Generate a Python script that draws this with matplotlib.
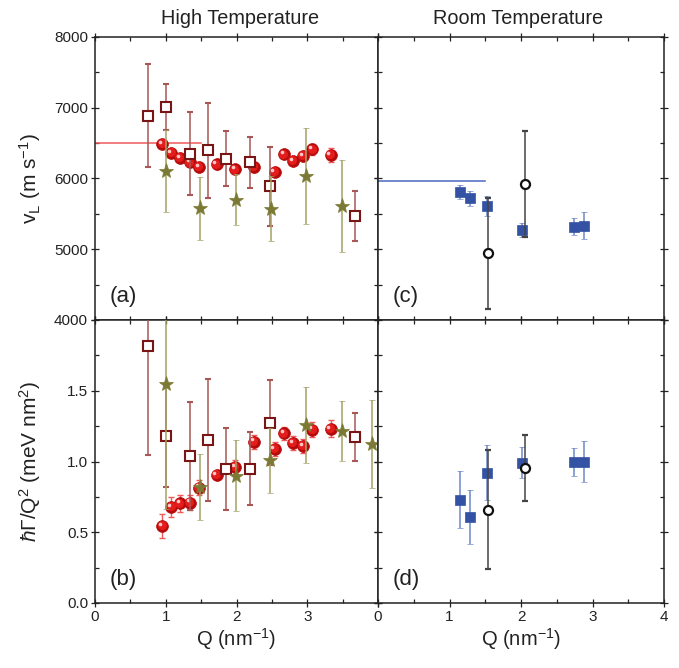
import matplotlib
matplotlib.use('Agg')
import matplotlib.pyplot as plt
from matplotlib.ticker import MultipleLocator, FixedLocator, FixedFormatter
from matplotlib.transforms import Bbox, TransformedBbox, offset_copy

plt.rcParams['font.family'] = ['Liberation Sans', 'DejaVu Sans']
plt.rcParams['mathtext.fontset'] = 'custom'
plt.rcParams['mathtext.rm'] = 'Liberation Sans'
plt.rcParams['mathtext.it'] = 'Liberation Sans:italic'
plt.rcParams['mathtext.bf'] = 'Liberation Sans:bold'

# ---------------- data ----------------
# High temperature: spheres (red), open squares (maroon), stars (olive)
ht_sph_q = [0.95, 1.08, 1.20, 1.34, 1.47, 1.72, 1.98, 2.25, 2.54, 2.67, 2.80, 2.94, 3.07, 3.33]
ht_sph_v = [6490, 6360, 6290, 6230, 6160, 6200, 6130, 6160, 6090, 6340, 6250, 6320, 6410, 6330]
ht_sph_v_err = [60, 50, 50, 50, 60, 60, 60, 70, 60, 50, 50, 60, 80, 100]
ht_sph_g = [0.545, 0.68, 0.705, 0.71, 0.815, 0.905, 0.96, 1.14, 1.09, 1.20, 1.13, 1.11, 1.225, 1.23]
ht_sph_g_err = [0.085, 0.07, 0.06, 0.05, 0.055, 0.03, 0.05, 0.05, 0.05, 0.045, 0.05, 0.05, 0.055, 0.06]

ht_sq_q = [0.75, 1.00, 1.34, 1.60, 1.85, 2.19, 2.48, 3.68]
ht_sq_v = [6890, 7010, 6350, 6400, 6280, 6230, 5890, 5470]
ht_sq_v_err = [730, 330, 590, 670, 390, 360, 560, 350]
ht_sq_g = [1.815, 1.18, 1.04, 1.15, 0.95, 0.95, 1.275, 1.175]
ht_sq_g_err = [0.77, 0.36, 0.38, 0.43, 0.29, 0.26, 0.30, 0.17]

ht_star_q_v = [1.00, 1.49, 1.99, 2.49, 2.98, 3.49]
ht_star_v = [6110, 5580, 5700, 5570, 6030, 5610]
ht_star_v_err = [580, 445, 360, 460, 680, 650]
ht_star_q_g = [1.00, 1.49, 1.99, 2.48, 2.98, 3.49, 3.91]
ht_star_g = [1.545, 0.82, 0.90, 1.01, 1.26, 1.215, 1.125]
ht_star_g_err = [0.88, 0.23, 0.25, 0.23, 0.27, 0.21, 0.31]

ht_line_q = [0.0, 1.5]
ht_line_v = [6500, 6500]

# Room temperature: filled squares (blue), open circles (black)
rt_sq_q = [1.14, 1.29, 1.53, 2.02, 2.74, 2.88]
rt_sq_v = [5810, 5720, 5610, 5270, 5320, 5330]
rt_sq_v_err = [105, 110, 140, 100, 125, 190]
rt_sq_g = [0.73, 0.61, 0.92, 0.99, 0.995, 1.00]
rt_sq_g_err = [0.20, 0.19, 0.195, 0.11, 0.10, 0.145]

rt_circ_q = [1.54, 2.05]
rt_circ_v = [4940, 5925]
rt_circ_v_err = [790, 750]
rt_circ_g = [0.66, 0.955]
rt_circ_g_err = [0.42, 0.235]

rt_line_q = [0.0, 1.5]
rt_line_v = [5970, 5970]

x_ticks = [0, 1, 2, 3, 4]
x_labels_left = ['0', '1', '2', '3', '']
x_labels_right = ['0', '1', '2', '3', '4']
v_ticks = [4000, 5000, 6000, 7000, 8000]
v_labels = ['4000', '5000', '6000', '7000', '8000']
g_ticks = [0.0, 0.5, 1.0, 1.5, 2.0]
g_labels = ['0.0', '0.5', '1.0', '1.5', '']

# ---------------- styles ----------------
RED = '#e41c1c'
RED_DARK = '#b50a0a'
RED_ERR = '#ee5a5a'
MAROON = '#7a1515'
MAROON_ERR = '#a85656'
OLIVE = '#7b7a34'
OLIVE_ERR = '#a3a266'
BLUE = '#3352a4'
BLUE_ERR = '#6d88c8'
BLACK = '#111111'
BLACK_ERR = '#444444'
TXT = '#222222'

fig = plt.figure(figsize=(6.79, 6.68), dpi=100)

L = 95 / 679
M = 378 / 679
R = 664 / 679
B = (668 - 603) / 668
Mid = (668 - 320) / 668
T = (668 - 37) / 668

ax_a = fig.add_axes([L, Mid, M - L, T - Mid])
ax_c = fig.add_axes([M, Mid, R - M, T - Mid])
ax_b = fig.add_axes([L, B, M - L, Mid - B])
ax_d = fig.add_axes([M, B, R - M, Mid - B])


def spheres(ax, q, y, err):
    ax.errorbar(q, y, yerr=err, fmt='none', ecolor=RED_ERR, elinewidth=1.0,
                capsize=2.5, capthick=1.0, zorder=3)
    ax.plot(q, y, 'o', ms=8.5, mfc=RED_DARK, mec=RED_DARK, mew=0.5, zorder=4, ls='none')
    t1 = offset_copy(ax.transData, fig=fig, x=-0.5, y=0.5, units='points')
    ax.plot(q, y, 'o', ms=6.5, mfc=RED, mec='none', zorder=4.1, ls='none', transform=t1)
    t2 = offset_copy(ax.transData, fig=fig, x=-1.6, y=1.6, units='points')
    ax.plot(q, y, 'o', ms=2.6, mfc='#ffc8c8', mec='none', zorder=4.2, ls='none', transform=t2)


def open_squares(ax, q, y, err):
    ax.errorbar(q, y, yerr=err, fmt='s', ms=6.5, mfc='white', mec=MAROON, mew=1.5,
                ecolor=MAROON_ERR, elinewidth=1.1, capsize=2.5, capthick=1.0, zorder=5)


def stars(ax, q, y, err):
    ax.errorbar(q, y, yerr=err, fmt='*', ms=11, mfc=OLIVE, mec=OLIVE, mew=0.5,
                ecolor=OLIVE_ERR, elinewidth=1.1, capsize=2.5, capthick=1.0, zorder=6)


def blue_squares(ax, q, y, err):
    ax.errorbar(q, y, yerr=err, fmt='s', ms=7, mfc=BLUE, mec=BLUE, mew=0.5,
                ecolor=BLUE_ERR, elinewidth=1.1, capsize=2.5, capthick=1.0, zorder=5)


def open_circles(ax, q, y, err):
    ax.errorbar(q, y, yerr=err, fmt='o', ms=6.5, mfc='white', mec=BLACK, mew=1.6,
                ecolor=BLACK_ERR, elinewidth=1.1, capsize=2.5, capthick=1.0, zorder=6)


# (a)
ax_a.plot(ht_line_q, ht_line_v, color='#f05a5a', lw=1.1, zorder=2)
open_squares(ax_a, ht_sq_q, ht_sq_v, ht_sq_v_err)
stars(ax_a, ht_star_q_v, ht_star_v, ht_star_v_err)
spheres(ax_a, ht_sph_q, ht_sph_v, ht_sph_v_err)

# (b)
open_squares(ax_b, ht_sq_q, ht_sq_g, ht_sq_g_err)
stars(ax_b, ht_star_q_g, ht_star_g, ht_star_g_err)
spheres(ax_b, ht_sph_q, ht_sph_g, ht_sph_g_err)
# allow markers at the right edge of (b) to spill over slightly
clipbox = TransformedBbox(Bbox([[-0.2, 0.0], [4.4, 2.0]]), ax_b.transData)
for art in list(ax_b.lines) + list(ax_b.collections):
    art.set_clip_box(clipbox)
    art.set_clip_path(None)

# (c)
ax_c.plot(rt_line_q, rt_line_v, color='#4a68c0', lw=1.1, zorder=2)
blue_squares(ax_c, rt_sq_q, rt_sq_v, rt_sq_v_err)
open_circles(ax_c, rt_circ_q, rt_circ_v, rt_circ_v_err)

# (d)
blue_squares(ax_d, rt_sq_q, rt_sq_g, rt_sq_g_err)
open_circles(ax_d, rt_circ_q, rt_circ_g, rt_circ_g_err)

# ---------------- axes formatting ----------------
for ax in (ax_a, ax_b, ax_c, ax_d):
    ax.set_xlim(0, 4)
    ax.xaxis.set_major_locator(FixedLocator(x_ticks))
    ax.xaxis.set_minor_locator(MultipleLocator(0.5))
    ax.tick_params(which='both', top=True, right=True, bottom=True, left=True,
                   labelsize=11, colors=TXT, width=0.9)
    ax.tick_params(which='major', direction='inout', length=6, pad=2)
    ax.tick_params(which='minor', direction='in', length=3)
    for s in ax.spines.values():
        s.set_linewidth(1.1)
        s.set_color(TXT)

for ax in (ax_a, ax_c):
    ax.set_ylim(4000, 8000)
    ax.yaxis.set_major_locator(FixedLocator(v_ticks))
    ax.yaxis.set_minor_locator(MultipleLocator(500))
    ax.tick_params(labelbottom=False)
for ax in (ax_b, ax_d):
    ax.set_ylim(0, 2.0)
    ax.yaxis.set_major_locator(FixedLocator(g_ticks))
    ax.yaxis.set_minor_locator(MultipleLocator(0.25))

ax_a.yaxis.set_major_formatter(FixedFormatter(v_labels))
ax_b.yaxis.set_major_formatter(FixedFormatter(g_labels))
ax_b.xaxis.set_major_formatter(FixedFormatter(x_labels_left))
ax_d.xaxis.set_major_formatter(FixedFormatter(x_labels_right))
ax_c.tick_params(labelleft=False)
ax_d.tick_params(labelleft=False)

# panel labels
for ax, lab in ((ax_a, '(a)'), (ax_b, '(b)'), (ax_c, '(c)'), (ax_d, '(d)')):
    ax.text(0.05, 0.082, lab, transform=ax.transAxes, fontsize=16, color=TXT,
            ha='left', va='center')

# column titles
fig.text(0.353, 0.972, 'High Temperature', fontsize=14.3, ha='center', va='center', color=TXT)
fig.text(0.763, 0.972, 'Room Temperature', fontsize=14.3, ha='center', va='center', color=TXT)

# axis labels
xlab = r'Q (nm$^{\mathregular{-1}}$)'
fig.text((L + M) / 2, 0.043, xlab, fontsize=14.5, ha='center', va='center', color=TXT)
fig.text((M + R) / 2, 0.043, xlab, fontsize=14.5, ha='center', va='center', color=TXT)
fig.text(0.044, (Mid + T) / 2, r'v$_{\mathregular{L}}$ (m s$^{\mathregular{-1}}$)', fontsize=15,
         rotation=90, ha='center', va='center', color=TXT)
fig.text(0.044, (B + Mid) / 2,
         r'$\hbar\mathregular{\Gamma}$/Q$^{\mathregular{2}}$ (meV nm$^{\mathregular{2}}$)',
         fontsize=15, rotation=90, ha='center', va='center', color=TXT)

fig.savefig('out.png', dpi=100)
